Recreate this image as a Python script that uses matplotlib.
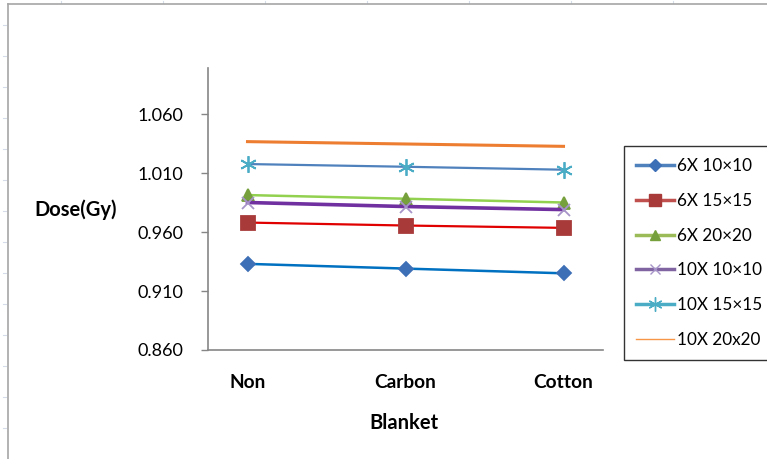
import numpy as np
import matplotlib
matplotlib.use("Agg")
import matplotlib.pyplot as plt
from matplotlib.lines import Line2D

plt.rcParams['font.family'] = ['Lato', 'DejaVu Sans']

# data
blankets = ['Non', 'Carbon', 'Cotton']
dose_6x_10 = [0.933, 0.929, 0.925]
dose_6x_15 = [0.968, 0.9655, 0.9635]
dose_6x_20 = [0.9913, 0.9882, 0.985]
dose_10x_10 = [0.985, 0.9816, 0.979]
dose_10x_15 = [1.0176, 1.0153, 1.0128]
dose_10x_20 = [1.0366, 1.0346, 1.0326]
labels = ['6X 10\u00d710', '6X 15\u00d715', '6X 20\u00d720',
          '10X 10\u00d710', '10X 15\u00d715', '10X 20x20']
yticks = [0.860, 0.910, 0.960, 1.010, 1.060]

W, H = 767, 459
fig = plt.figure(figsize=(W / 100, H / 100), dpi=100)
fig.patch.set_facecolor('white')

# spreadsheet cell marks peeking round the chart
for y in range(25, 459, 31):
    fig.add_artist(Line2D([3 / W, 6 / W], [1 - y / H, 1 - y / H], color='#d5dbe8', lw=0.8))
for x in [61, 163, 265, 367, 469, 571, 673]:
    fig.add_artist(Line2D([x / W, x / W], [1 - 1 / H, 1 - 3 / H], color='#d5dbe8', lw=0.8))
# chart border
fig.add_artist(Line2D([8 / W, 8 / W], [0, 1 - 4 / H], color='#a6a6a6', lw=1.2))
fig.add_artist(Line2D([8 / W, 1], [1 - 4 / H, 1 - 4 / H], color='#a6a6a6', lw=1.2))

ax = fig.add_axes([208 / W, (H - 350) / H, (603 - 208) / W, (350 - 68) / H])
x = np.arange(1, len(blankets) + 1)

series = [
    (dose_6x_10, '#0070c0', 'D', '#3d6fb6', 7, 1.8),
    (dose_6x_15, '#e00000', 's', '#a83a3a', 9.5, 1.6),
    (dose_6x_20, '#92d050', '^', '#76a03c', 9, 1.8),
    (dose_10x_10, '#7030a0', 'x', '#a694c8', 9, 2.6),
    (dose_10x_15, '#4f81bd', (6, 2, 0), '#4bacc6', 12, 1.6),
    (dose_10x_20, '#ed7d31', None, '#f79646', 0, 2.2),
]
legend_colors = ['#4f81bd', '#c0504d', '#9bbb59', '#8064a2', '#4bacc6', '#f79646']

handles = []
for (vals, lc, mk, mc, ms, lw), lab, lgc in zip(series, labels, legend_colors):
    ax.plot(x, vals, color=lc, lw=lw, marker=mk, markersize=ms,
            markerfacecolor=mc, markeredgecolor=mc, markeredgewidth=1.3)
    handles.append(Line2D([], [], color=lgc, lw=2.5 if mk is not None else 1.0,
                          marker=mk, markersize=ms * 0.85,
                          markerfacecolor=mc, markeredgecolor=mc, label=lab))

ax.set_xlim(0.75, 3.25)
ax.set_ylim(0.86, 1.099)
ax.set_yticks(yticks)
ax.set_yticklabels(['%.3f' % v for v in yticks])
ax.set_xticks(x)
ax.set_xticklabels(blankets, fontweight='bold')

for side in ['top', 'right']:
    ax.spines[side].set_visible(False)
ax.spines['left'].set_color('#868686')
ax.spines['bottom'].set_color('#868686')
ax.spines['left'].set_linewidth(1.2)
ax.spines['bottom'].set_linewidth(1.2)
ax.tick_params(axis='y', length=5, width=1, color='#868686', pad=13, labelsize=13)
ax.tick_params(axis='x', length=0, pad=17, labelsize=13.8)

fig.text(76 / W, 1 - 210 / H, 'Dose(Gy)', ha='center', va='center', fontsize=14.5, fontweight='bold')
fig.text(404 / W, 1 - 423 / H, 'Blanket', ha='center', va='center', fontsize=14.5, fontweight='bold')

leg = fig.legend(handles=handles, loc='upper left', bbox_to_anchor=(624 / W, 1 - 146 / H),
                 bbox_transform=fig.transFigure, frameon=True, fancybox=False,
                 edgecolor='black', fontsize=12.3, handlelength=2.2, handletextpad=0.2,
                 labelspacing=1.1, borderpad=0.7, borderaxespad=0)
leg.get_frame().set_linewidth(1.0)

fig.savefig('out.png', dpi=100)
